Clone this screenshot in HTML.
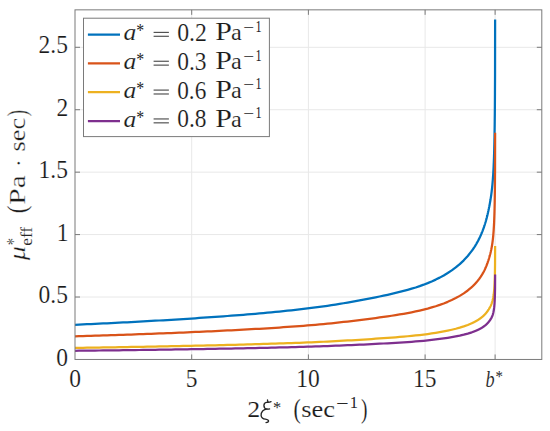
<!DOCTYPE html><html><head><meta charset="utf-8"><style>html,body{margin:0;padding:0;background:#fff;overflow:hidden}svg{display:block}text{font-family:"Liberation Serif",serif;fill:#1a1a1a;stroke:#fff;stroke-width:0.15px}text.sm{stroke:none;fill:#262626}.yl text{stroke-width:0.3px}.yl text.sm{stroke:#fff;stroke-width:0.12px}</style></head><body>
<svg width="550" height="431" viewBox="0 0 550 431">
<rect width="550" height="431" fill="#fff"/>
<path d="M191.70 9.84V359.45M308.40 9.84V359.45M425.10 9.84V359.45M495.12 9.84V359.45M75.00 297.02H541.80M75.00 234.59H541.80M75.00 172.16H541.80M75.00 109.73H541.80M75.00 47.30H541.80" stroke="#e8e8e8" stroke-width="1" fill="none"/>
<polyline points="75.00,324.77 79.01,324.59 83.02,324.41 87.02,324.23 91.03,324.04 95.04,323.86 99.05,323.67 103.06,323.48 107.06,323.28 111.07,323.08 115.08,322.89 119.09,322.68 123.09,322.48 127.10,322.27 131.11,322.06 135.12,321.85 139.13,321.63 143.13,321.41 147.14,321.19 151.15,320.96 155.16,320.74 159.17,320.50 163.17,320.27 167.18,320.03 171.19,319.79 175.20,319.54 179.20,319.29 183.21,319.04 187.22,318.79 191.23,318.52 195.24,318.26 199.24,317.99 203.25,317.72 207.26,317.45 211.27,317.17 215.28,316.88 219.28,316.59 223.29,316.30 227.30,316.00 231.31,315.70 235.32,315.39 239.32,315.08 243.33,314.76 247.34,314.43 251.35,314.10 255.35,313.76 259.36,313.41 263.37,313.05 267.38,312.69 271.39,312.32 275.39,311.93 279.40,311.54 283.41,311.14 287.42,310.73 291.43,310.30 295.43,309.86 299.44,309.41 303.45,308.94 307.46,308.46 311.46,307.96 315.47,307.45 319.48,306.91 323.49,306.35 327.50,305.77 331.50,305.17 335.51,304.56 339.52,303.92 343.53,303.26 347.54,302.58 351.54,301.88 355.55,301.16 359.56,300.43 363.57,299.67 367.58,298.90 371.58,298.12 375.59,297.32 379.60,296.50 383.61,295.65 387.61,294.78 391.62,293.88 395.63,292.94 399.64,291.96 403.65,290.93 407.65,289.85 411.66,288.69 415.67,287.46 419.68,286.12 423.69,284.68 427.69,283.12 431.70,281.44 435.71,279.61 439.72,277.62 443.72,275.44 447.73,273.04 451.74,270.39 455.75,267.43 459.76,264.10 463.76,260.32 467.77,255.98 471.78,250.91 471.86,250.81 471.94,250.70 472.01,250.59 472.09,250.48 472.17,250.37 472.25,250.26 472.33,250.15 472.40,250.04 472.48,249.93 472.56,249.82 472.64,249.71 472.72,249.60 472.79,249.49 472.87,249.38 472.95,249.26 473.03,249.15 473.11,249.04 473.19,248.92 473.26,248.81 473.34,248.69 473.42,248.58 473.50,248.46 473.58,248.35 473.65,248.23 473.73,248.11 473.81,248.00 473.89,247.88 473.97,247.76 474.04,247.64 474.12,247.52 474.20,247.40 474.28,247.28 474.36,247.16 474.43,247.04 474.51,246.92 474.59,246.80 474.67,246.68 474.75,246.55 474.82,246.43 474.90,246.31 474.98,246.18 475.06,246.06 475.14,245.93 475.21,245.81 475.29,245.68 475.37,245.55 475.45,245.42 475.53,245.30 475.60,245.17 475.68,245.04 475.76,244.91 475.84,244.78 475.92,244.65 476.00,244.52 476.07,244.39 476.15,244.26 476.23,244.12 476.31,243.99 476.39,243.86 476.46,243.72 476.54,243.59 476.62,243.45 476.70,243.31 476.78,243.18 476.85,243.04 476.93,242.90 477.01,242.76 477.09,242.62 477.17,242.49 477.24,242.34 477.32,242.20 477.40,242.06 477.48,241.92 477.56,241.78 477.63,241.63 477.71,241.49 477.79,241.34 477.87,241.20 477.95,241.05 478.02,240.91 478.10,240.76 478.18,240.61 478.26,240.46 478.34,240.31 478.42,240.16 478.49,240.01 478.57,239.86 478.65,239.71 478.73,239.55 478.81,239.40 478.88,239.24 478.96,239.09 479.04,238.93 479.12,238.77 479.20,238.62 479.27,238.46 479.35,238.30 479.43,238.14 479.51,237.98 479.59,237.82 479.66,237.65 479.74,237.49 479.82,237.32 479.90,237.16 479.98,236.99 480.05,236.83 480.13,236.66 480.21,236.49 480.29,236.32 480.37,236.15 480.44,235.98 480.52,235.81 480.60,235.63 480.68,235.46 480.76,235.28 480.83,235.11 480.91,234.93 480.99,234.75 481.07,234.57 481.15,234.39 481.23,234.21 481.30,234.03 481.38,233.85 481.46,233.66 481.54,233.48 481.62,233.29 481.69,233.10 481.77,232.91 481.85,232.72 481.93,232.53 482.01,232.34 482.08,232.15 482.16,231.95 482.24,231.76 482.32,231.56 482.40,231.36 482.47,231.16 482.55,230.96 482.63,230.76 482.71,230.56 482.79,230.35 482.86,230.15 482.94,229.94 483.02,229.73 483.10,229.52 483.18,229.31 483.25,229.10 483.33,228.89 483.41,228.67 483.49,228.45 483.57,228.24 483.65,228.02 483.72,227.79 483.80,227.57 483.88,227.35 483.96,227.12 484.04,226.89 484.11,226.67 484.19,226.43 484.27,226.20 484.35,225.97 484.43,225.73 484.50,225.50 484.58,225.26 484.66,225.02 484.74,224.77 484.82,224.53 484.89,224.28 484.97,224.03 485.05,223.78 485.13,223.53 485.21,223.28 485.28,223.02 485.36,222.76 485.44,222.50 485.52,222.24 485.60,221.98 485.67,221.71 485.75,221.44 485.83,221.17 485.91,220.90 485.99,220.62 486.07,220.34 486.14,220.06 486.22,219.78 486.30,219.50 486.38,219.21 486.46,218.92 486.53,218.62 486.61,218.33 486.69,218.03 486.77,217.73 486.85,217.43 486.92,217.12 487.00,216.81 487.08,216.50 487.16,216.18 487.24,215.87 487.31,215.54 487.39,215.22 487.47,214.89 487.55,214.56 487.63,214.23 487.70,213.89 487.78,213.55 487.86,213.20 487.94,212.85 488.02,212.50 488.09,212.15 488.17,211.79 488.25,211.43 488.33,211.07 488.41,210.71 488.48,210.34 488.56,209.97 488.64,209.60 488.72,209.23 488.80,208.85 488.88,208.47 488.95,208.09 489.03,207.70 489.11,207.32 489.19,206.92 489.27,206.53 489.34,206.13 489.42,205.73 489.50,205.32 489.58,204.91 489.66,204.49 489.73,204.08 489.81,203.65 489.89,203.22 489.97,202.79 490.05,202.35 490.12,201.90 490.20,201.45 490.28,200.99 490.36,200.53 490.44,200.06 490.51,199.58 490.59,199.10 490.67,198.61 490.75,198.11 490.83,197.60 490.90,197.08 490.98,196.56 491.06,196.02 491.14,195.47 491.22,194.92 491.30,194.35 491.37,193.77 491.45,193.17 491.53,192.57 491.61,191.95 491.69,191.31 491.76,190.66 491.84,189.99 491.92,189.31 492.00,188.60 492.08,187.88 492.15,187.14 492.23,186.37 492.31,185.58 492.39,184.77 492.47,183.92 492.54,183.05 492.62,182.15 492.70,181.22 492.78,180.24 492.86,179.24 492.93,178.18 493.01,177.09 493.09,175.94 493.17,174.75 493.25,173.49 493.32,172.17 493.40,170.79 493.48,169.32 493.56,167.78 493.64,166.14 493.71,164.39 493.79,162.53 493.87,160.53 493.95,158.39 494.03,156.08 494.11,153.58 494.18,150.87 494.26,147.91 494.34,144.65 494.42,141.06 494.50,137.04 494.57,132.51 494.65,127.33 494.73,121.30 494.81,114.10 494.89,105.19 494.96,93.44 495.04,75.92 495.12,19.42" fill="none" stroke="#0072BD" stroke-width="2.25" stroke-linejoin="round" stroke-linecap="butt"/>
<polyline points="75.00,336.33 79.01,336.21 83.02,336.09 87.02,335.97 91.03,335.85 95.04,335.72 99.05,335.59 103.06,335.47 107.06,335.34 111.07,335.21 115.08,335.07 119.09,334.94 123.09,334.80 127.10,334.66 131.11,334.52 135.12,334.38 139.13,334.24 143.13,334.09 147.14,333.94 151.15,333.79 155.16,333.64 159.17,333.49 163.17,333.33 167.18,333.17 171.19,333.01 175.20,332.85 179.20,332.68 183.21,332.51 187.22,332.34 191.23,332.17 195.24,331.99 199.24,331.81 203.25,331.63 207.26,331.45 211.27,331.26 215.28,331.07 219.28,330.88 223.29,330.68 227.30,330.49 231.31,330.28 235.32,330.08 239.32,329.87 243.33,329.65 247.34,329.44 251.35,329.21 255.35,328.99 259.36,328.76 263.37,328.52 267.38,328.28 271.39,328.03 275.39,327.77 279.40,327.51 283.41,327.24 287.42,326.97 291.43,326.68 295.43,326.39 299.44,326.09 303.45,325.78 307.46,325.46 311.46,325.13 315.47,324.78 319.48,324.42 323.49,324.05 327.50,323.66 331.50,323.27 335.51,322.85 339.52,322.43 343.53,321.99 347.54,321.54 351.54,321.07 355.55,320.59 359.56,320.10 363.57,319.60 367.58,319.09 371.58,318.56 375.59,318.03 379.60,317.48 383.61,316.92 387.61,316.34 391.62,315.74 395.63,315.11 399.64,314.46 403.65,313.77 407.65,313.05 411.66,312.28 415.67,311.45 419.68,310.57 423.69,309.60 427.69,308.57 431.70,307.44 435.71,306.23 439.72,304.90 443.72,303.44 447.73,301.84 451.74,300.07 455.75,298.10 459.76,295.88 463.76,293.36 467.77,290.47 471.78,287.09 471.86,287.02 471.94,286.95 472.01,286.88 472.09,286.80 472.17,286.73 472.25,286.66 472.33,286.59 472.40,286.51 472.48,286.44 472.56,286.37 472.64,286.29 472.72,286.22 472.79,286.14 472.87,286.07 472.95,285.99 473.03,285.92 473.11,285.84 473.19,285.77 473.26,285.69 473.34,285.61 473.42,285.54 473.50,285.46 473.58,285.38 473.65,285.30 473.73,285.23 473.81,285.15 473.89,285.07 473.97,284.99 474.04,284.91 474.12,284.83 474.20,284.75 474.28,284.67 474.36,284.59 474.43,284.51 474.51,284.43 474.59,284.35 474.67,284.27 474.75,284.19 474.82,284.10 474.90,284.02 474.98,283.94 475.06,283.85 475.14,283.77 475.21,283.69 475.29,283.60 475.37,283.52 475.45,283.43 475.53,283.35 475.60,283.26 475.68,283.18 475.76,283.09 475.84,283.00 475.92,282.92 476.00,282.83 476.07,282.74 476.15,282.65 476.23,282.57 476.31,282.48 476.39,282.39 476.46,282.30 476.54,282.21 476.62,282.12 476.70,282.03 476.78,281.94 476.85,281.84 476.93,281.75 477.01,281.66 477.09,281.57 477.17,281.47 477.24,281.38 477.32,281.29 477.40,281.19 477.48,281.10 477.56,281.00 477.63,280.91 477.71,280.81 477.79,280.71 477.87,280.62 477.95,280.52 478.02,280.42 478.10,280.32 478.18,280.22 478.26,280.12 478.34,280.02 478.42,279.92 478.49,279.82 478.57,279.72 478.65,279.62 478.73,279.52 478.81,279.42 478.88,279.31 478.96,279.21 479.04,279.10 479.12,279.00 479.20,278.89 479.27,278.79 479.35,278.68 479.43,278.58 479.51,278.47 479.59,278.36 479.66,278.25 479.74,278.14 479.82,278.03 479.90,277.92 479.98,277.81 480.05,277.70 480.13,277.59 480.21,277.48 480.29,277.36 480.37,277.25 480.44,277.14 480.52,277.02 480.60,276.91 480.68,276.79 480.76,276.67 480.83,276.55 480.91,276.44 480.99,276.32 481.07,276.20 481.15,276.08 481.23,275.96 481.30,275.84 481.38,275.71 481.46,275.59 481.54,275.47 481.62,275.34 481.69,275.22 481.77,275.09 481.85,274.97 481.93,274.84 482.01,274.71 482.08,274.58 482.16,274.45 482.24,274.32 482.32,274.19 482.40,274.06 482.47,273.93 482.55,273.79 482.63,273.66 482.71,273.52 482.79,273.39 482.86,273.25 482.94,273.11 483.02,272.97 483.10,272.83 483.18,272.69 483.25,272.55 483.33,272.41 483.41,272.26 483.49,272.12 483.57,271.97 483.65,271.83 483.72,271.68 483.80,271.53 483.88,271.38 483.96,271.23 484.04,271.08 484.11,270.93 484.19,270.77 484.27,270.62 484.35,270.46 484.43,270.31 484.50,270.15 484.58,269.99 484.66,269.83 484.74,269.67 484.82,269.50 484.89,269.34 484.97,269.17 485.05,269.01 485.13,268.84 485.21,268.67 485.28,268.50 485.36,268.33 485.44,268.15 485.52,267.98 485.60,267.80 485.67,267.62 485.75,267.44 485.83,267.26 485.91,267.08 485.99,266.90 486.07,266.71 486.14,266.53 486.22,266.34 486.30,266.15 486.38,265.96 486.46,265.76 486.53,265.57 486.61,265.37 486.69,265.17 486.77,264.97 486.85,264.77 486.92,264.56 487.00,264.36 487.08,264.15 487.16,263.94 487.24,263.73 487.31,263.51 487.39,263.30 487.47,263.08 487.55,262.86 487.63,262.63 487.70,262.41 487.78,262.18 487.86,261.95 487.94,261.72 488.02,261.48 488.09,261.25 488.17,261.01 488.25,260.77 488.33,260.53 488.41,260.29 488.48,260.04 488.56,259.80 488.64,259.55 488.72,259.30 488.80,259.05 488.88,258.80 488.95,258.54 489.03,258.29 489.11,258.03 489.19,257.77 489.27,257.50 489.34,257.24 489.42,256.97 489.50,256.70 489.58,256.42 489.66,256.15 489.73,255.87 489.81,255.58 489.89,255.30 489.97,255.01 490.05,254.72 490.12,254.42 490.20,254.12 490.28,253.81 490.36,253.50 490.44,253.19 490.51,252.87 490.59,252.55 490.67,252.22 490.75,251.89 490.83,251.55 490.90,251.20 490.98,250.85 491.06,250.50 491.14,250.13 491.22,249.76 491.30,249.38 491.37,248.99 491.45,248.60 491.53,248.19 491.61,247.78 491.69,247.36 491.76,246.92 491.84,246.48 491.92,246.02 492.00,245.55 492.08,245.07 492.15,244.58 492.23,244.06 492.31,243.54 492.39,242.99 492.47,242.43 492.54,241.85 492.62,241.25 492.70,240.63 492.78,239.98 492.86,239.31 492.93,238.61 493.01,237.88 493.09,237.11 493.17,236.31 493.25,235.48 493.32,234.60 493.40,233.67 493.48,232.70 493.56,231.67 493.64,230.58 493.71,229.41 493.79,228.17 493.87,226.84 493.95,225.41 494.03,223.87 494.11,222.20 494.18,220.40 494.26,218.42 494.34,216.25 494.42,213.85 494.50,211.18 494.57,208.16 494.65,204.71 494.73,200.69 494.81,195.89 494.89,189.94 494.96,182.11 495.04,170.43 495.12,132.76" fill="none" stroke="#D95319" stroke-width="2.25" stroke-linejoin="round" stroke-linecap="butt"/>
<polyline points="75.00,347.89 79.01,347.83 83.02,347.77 87.02,347.71 91.03,347.65 95.04,347.59 99.05,347.52 103.06,347.46 107.06,347.39 111.07,347.33 115.08,347.26 119.09,347.19 123.09,347.13 127.10,347.06 131.11,346.99 135.12,346.92 139.13,346.84 143.13,346.77 147.14,346.70 151.15,346.62 155.16,346.55 159.17,346.47 163.17,346.39 167.18,346.31 171.19,346.23 175.20,346.15 179.20,346.06 183.21,345.98 187.22,345.90 191.23,345.81 195.24,345.72 199.24,345.63 203.25,345.54 207.26,345.45 211.27,345.36 215.28,345.26 219.28,345.16 223.29,345.07 227.30,344.97 231.31,344.87 235.32,344.76 239.32,344.66 243.33,344.55 247.34,344.44 251.35,344.33 255.35,344.22 259.36,344.10 263.37,343.98 267.38,343.86 271.39,343.74 275.39,343.61 279.40,343.48 283.41,343.35 287.42,343.21 291.43,343.07 295.43,342.92 299.44,342.77 303.45,342.61 307.46,342.45 311.46,342.29 315.47,342.12 319.48,341.94 323.49,341.75 327.50,341.56 331.50,341.36 335.51,341.15 339.52,340.94 343.53,340.72 347.54,340.49 351.54,340.26 355.55,340.02 359.56,339.78 363.57,339.52 367.58,339.27 371.58,339.01 375.59,338.74 379.60,338.47 383.61,338.18 387.61,337.89 391.62,337.59 395.63,337.28 399.64,336.95 403.65,336.61 407.65,336.25 411.66,335.86 415.67,335.45 419.68,335.01 423.69,334.53 427.69,334.01 431.70,333.45 435.71,332.84 439.72,332.17 443.72,331.45 447.73,330.65 451.74,329.76 455.75,328.78 459.76,327.67 463.76,326.41 467.77,324.96 471.78,323.27 471.86,323.24 471.94,323.20 472.01,323.16 472.09,323.13 472.17,323.09 472.25,323.05 472.33,323.02 472.40,322.98 472.48,322.94 472.56,322.91 472.64,322.87 472.72,322.83 472.79,322.80 472.87,322.76 472.95,322.72 473.03,322.68 473.11,322.65 473.19,322.61 473.26,322.57 473.34,322.53 473.42,322.49 473.50,322.45 473.58,322.42 473.65,322.38 473.73,322.34 473.81,322.30 473.89,322.26 473.97,322.22 474.04,322.18 474.12,322.14 474.20,322.10 474.28,322.06 474.36,322.02 474.43,321.98 474.51,321.94 474.59,321.90 474.67,321.86 474.75,321.82 474.82,321.78 474.90,321.74 474.98,321.69 475.06,321.65 475.14,321.61 475.21,321.57 475.29,321.53 475.37,321.48 475.45,321.44 475.53,321.40 475.60,321.36 475.68,321.31 475.76,321.27 475.84,321.23 475.92,321.18 476.00,321.14 476.07,321.10 476.15,321.05 476.23,321.01 476.31,320.96 476.39,320.92 476.46,320.87 476.54,320.83 476.62,320.78 476.70,320.74 476.78,320.69 476.85,320.65 476.93,320.60 477.01,320.55 477.09,320.51 477.17,320.46 477.24,320.41 477.32,320.37 477.40,320.32 477.48,320.27 477.56,320.23 477.63,320.18 477.71,320.13 477.79,320.08 477.87,320.03 477.95,319.98 478.02,319.94 478.10,319.89 478.18,319.84 478.26,319.79 478.34,319.74 478.42,319.69 478.49,319.64 478.57,319.59 478.65,319.54 478.73,319.48 478.81,319.43 478.88,319.38 478.96,319.33 479.04,319.28 479.12,319.22 479.20,319.17 479.27,319.12 479.35,319.07 479.43,319.01 479.51,318.96 479.59,318.91 479.66,318.85 479.74,318.80 479.82,318.74 479.90,318.69 479.98,318.63 480.05,318.58 480.13,318.52 480.21,318.46 480.29,318.41 480.37,318.35 480.44,318.29 480.52,318.24 480.60,318.18 480.68,318.12 480.76,318.06 480.83,318.00 480.91,317.94 480.99,317.88 481.07,317.82 481.15,317.76 481.23,317.70 481.30,317.64 481.38,317.58 481.46,317.52 481.54,317.46 481.62,317.40 481.69,317.33 481.77,317.27 481.85,317.21 481.93,317.14 482.01,317.08 482.08,317.02 482.16,316.95 482.24,316.89 482.32,316.82 482.40,316.75 482.47,316.69 482.55,316.62 482.63,316.55 482.71,316.49 482.79,316.42 482.86,316.35 482.94,316.28 483.02,316.21 483.10,316.14 483.18,316.07 483.25,316.00 483.33,315.93 483.41,315.86 483.49,315.78 483.57,315.71 483.65,315.64 483.72,315.56 483.80,315.49 483.88,315.42 483.96,315.34 484.04,315.26 484.11,315.19 484.19,315.11 484.27,315.03 484.35,314.96 484.43,314.88 484.50,314.80 484.58,314.72 484.66,314.64 484.74,314.56 484.82,314.48 484.89,314.39 484.97,314.31 485.05,314.23 485.13,314.14 485.21,314.06 485.28,313.97 485.36,313.89 485.44,313.80 485.52,313.71 485.60,313.63 485.67,313.54 485.75,313.45 485.83,313.36 485.91,313.27 485.99,313.17 486.07,313.08 486.14,312.99 486.22,312.89 486.30,312.80 486.38,312.70 486.46,312.61 486.53,312.51 486.61,312.41 486.69,312.31 486.77,312.21 486.85,312.11 486.92,312.01 487.00,311.90 487.08,311.80 487.16,311.69 487.24,311.59 487.31,311.48 487.39,311.37 487.47,311.26 487.55,311.15 487.63,311.04 487.70,310.93 487.78,310.82 487.86,310.70 487.94,310.58 488.02,310.47 488.09,310.35 488.17,310.23 488.25,310.11 488.33,309.99 488.41,309.87 488.48,309.75 488.56,309.62 488.64,309.50 488.72,309.38 488.80,309.25 488.88,309.12 488.95,309.00 489.03,308.87 489.11,308.74 489.19,308.61 489.27,308.48 489.34,308.34 489.42,308.21 489.50,308.07 489.58,307.94 489.66,307.80 489.73,307.66 489.81,307.52 489.89,307.37 489.97,307.23 490.05,307.08 490.12,306.93 490.20,306.78 490.28,306.63 490.36,306.48 490.44,306.32 490.51,306.16 490.59,306.00 490.67,305.84 490.75,305.67 490.83,305.50 490.90,305.33 490.98,305.15 491.06,304.97 491.14,304.79 491.22,304.61 491.30,304.42 491.37,304.22 491.45,304.02 491.53,303.82 491.61,303.62 491.69,303.40 491.76,303.19 491.84,302.96 491.92,302.74 492.00,302.50 492.08,302.26 492.15,302.01 492.23,301.76 492.31,301.49 492.39,301.22 492.47,300.94 492.54,300.65 492.62,300.35 492.70,300.04 492.78,299.71 492.86,299.38 492.93,299.03 493.01,298.66 493.09,298.28 493.17,297.88 493.25,297.46 493.32,297.02 493.40,296.56 493.48,296.07 493.56,295.56 493.64,295.01 493.71,294.43 493.79,293.81 493.87,293.14 493.95,292.43 494.03,291.66 494.11,290.83 494.18,289.92 494.26,288.94 494.34,287.85 494.42,286.65 494.50,285.31 494.57,283.80 494.65,282.08 494.73,280.07 494.81,277.67 494.89,274.70 494.96,270.78 495.04,264.94 495.12,246.11" fill="none" stroke="#EDB120" stroke-width="2.25" stroke-linejoin="round" stroke-linecap="butt"/>
<polyline points="75.00,350.78 79.01,350.73 83.02,350.69 87.02,350.64 91.03,350.60 95.04,350.55 99.05,350.50 103.06,350.46 107.06,350.41 111.07,350.36 115.08,350.31 119.09,350.26 123.09,350.21 127.10,350.16 131.11,350.10 135.12,350.05 139.13,350.00 143.13,349.94 147.14,349.89 151.15,349.83 155.16,349.77 159.17,349.71 163.17,349.65 167.18,349.60 171.19,349.53 175.20,349.47 179.20,349.41 183.21,349.35 187.22,349.28 191.23,349.22 195.24,349.15 199.24,349.09 203.25,349.02 207.26,348.95 211.27,348.88 215.28,348.81 219.28,348.74 223.29,348.66 227.30,348.59 231.31,348.51 235.32,348.44 239.32,348.36 243.33,348.28 247.34,348.20 251.35,348.11 255.35,348.03 259.36,347.94 263.37,347.85 267.38,347.76 271.39,347.67 275.39,347.57 279.40,347.47 283.41,347.37 287.42,347.27 291.43,347.16 295.43,347.05 299.44,346.94 303.45,346.82 307.46,346.70 311.46,346.58 315.47,346.45 319.48,346.31 323.49,346.17 327.50,346.03 331.50,345.88 335.51,345.73 339.52,345.57 343.53,345.40 347.54,345.23 351.54,345.06 355.55,344.88 359.56,344.69 363.57,344.51 367.58,344.31 371.58,344.12 375.59,343.92 379.60,343.71 383.61,343.50 387.61,343.28 391.62,343.06 395.63,342.82 399.64,342.58 403.65,342.32 407.65,342.05 411.66,341.76 415.67,341.45 419.68,341.12 423.69,340.76 427.69,340.37 431.70,339.95 435.71,339.49 439.72,338.99 443.72,338.45 447.73,337.85 451.74,337.18 455.75,336.44 459.76,335.61 463.76,334.67 467.77,333.58 471.78,332.32 471.86,332.29 471.94,332.26 472.01,332.24 472.09,332.21 472.17,332.18 472.25,332.15 472.33,332.13 472.40,332.10 472.48,332.07 472.56,332.04 472.64,332.02 472.72,331.99 472.79,331.96 472.87,331.93 472.95,331.90 473.03,331.88 473.11,331.85 473.19,331.82 473.26,331.79 473.34,331.76 473.42,331.73 473.50,331.70 473.58,331.67 473.65,331.65 473.73,331.62 473.81,331.59 473.89,331.56 473.97,331.53 474.04,331.50 474.12,331.47 474.20,331.44 474.28,331.41 474.36,331.38 474.43,331.35 474.51,331.32 474.59,331.29 474.67,331.26 474.75,331.23 474.82,331.19 474.90,331.16 474.98,331.13 475.06,331.10 475.14,331.07 475.21,331.04 475.29,331.01 475.37,330.98 475.45,330.94 475.53,330.91 475.60,330.88 475.68,330.85 475.76,330.82 475.84,330.78 475.92,330.75 476.00,330.72 476.07,330.68 476.15,330.65 476.23,330.62 476.31,330.58 476.39,330.55 476.46,330.52 476.54,330.48 476.62,330.45 476.70,330.42 476.78,330.38 476.85,330.35 476.93,330.31 477.01,330.28 477.09,330.24 477.17,330.21 477.24,330.17 477.32,330.14 477.40,330.10 477.48,330.07 477.56,330.03 477.63,330.00 477.71,329.96 477.79,329.92 477.87,329.89 477.95,329.85 478.02,329.81 478.10,329.78 478.18,329.74 478.26,329.70 478.34,329.67 478.42,329.63 478.49,329.59 478.57,329.55 478.65,329.51 478.73,329.48 478.81,329.44 478.88,329.40 478.96,329.36 479.04,329.32 479.12,329.28 479.20,329.24 479.27,329.20 479.35,329.16 479.43,329.12 479.51,329.08 479.59,329.04 479.66,329.00 479.74,328.96 479.82,328.92 479.90,328.88 479.98,328.84 480.05,328.79 480.13,328.75 480.21,328.71 480.29,328.67 480.37,328.62 480.44,328.58 480.52,328.54 480.60,328.50 480.68,328.45 480.76,328.41 480.83,328.36 480.91,328.32 480.99,328.28 481.07,328.23 481.15,328.19 481.23,328.14 481.30,328.09 481.38,328.05 481.46,328.00 481.54,327.96 481.62,327.91 481.69,327.86 481.77,327.82 481.85,327.77 481.93,327.72 482.01,327.67 482.08,327.62 482.16,327.58 482.24,327.53 482.32,327.48 482.40,327.43 482.47,327.38 482.55,327.33 482.63,327.28 482.71,327.23 482.79,327.18 482.86,327.12 482.94,327.07 483.02,327.02 483.10,326.97 483.18,326.92 483.25,326.86 483.33,326.81 483.41,326.75 483.49,326.70 483.57,326.65 483.65,326.59 483.72,326.54 483.80,326.48 483.88,326.42 483.96,326.37 484.04,326.31 484.11,326.25 484.19,326.20 484.27,326.14 484.35,326.08 484.43,326.02 484.50,325.96 484.58,325.90 484.66,325.84 484.74,325.78 484.82,325.72 484.89,325.66 484.97,325.60 485.05,325.53 485.13,325.47 485.21,325.41 485.28,325.34 485.36,325.28 485.44,325.21 485.52,325.15 485.60,325.08 485.67,325.01 485.75,324.95 485.83,324.88 485.91,324.81 485.99,324.74 486.07,324.67 486.14,324.60 486.22,324.53 486.30,324.46 486.38,324.39 486.46,324.32 486.53,324.24 486.61,324.17 486.69,324.10 486.77,324.02 486.85,323.94 486.92,323.87 487.00,323.79 487.08,323.71 487.16,323.63 487.24,323.55 487.31,323.47 487.39,323.39 487.47,323.31 487.55,323.23 487.63,323.14 487.70,323.06 487.78,322.97 487.86,322.89 487.94,322.80 488.02,322.71 488.09,322.62 488.17,322.54 488.25,322.45 488.33,322.35 488.41,322.26 488.48,322.17 488.56,322.08 488.64,321.99 488.72,321.89 488.80,321.80 488.88,321.71 488.95,321.61 489.03,321.51 489.11,321.42 489.19,321.32 489.27,321.22 489.34,321.12 489.42,321.02 489.50,320.92 489.58,320.82 489.66,320.71 489.73,320.61 489.81,320.50 489.89,320.39 489.97,320.28 490.05,320.17 490.12,320.06 490.20,319.95 490.28,319.84 490.36,319.72 490.44,319.60 490.51,319.48 490.59,319.36 490.67,319.24 490.75,319.11 490.83,318.99 490.90,318.86 490.98,318.73 491.06,318.59 491.14,318.46 491.22,318.32 491.30,318.17 491.37,318.03 491.45,317.88 491.53,317.73 491.61,317.57 491.69,317.42 491.76,317.25 491.84,317.09 491.92,316.91 492.00,316.74 492.08,316.56 492.15,316.37 492.23,316.18 492.31,315.98 492.39,315.78 492.47,315.57 492.54,315.35 492.62,315.13 492.70,314.89 492.78,314.65 492.86,314.40 492.93,314.13 493.01,313.86 493.09,313.57 493.17,313.27 493.25,312.96 493.32,312.63 493.40,312.28 493.48,311.92 493.56,311.53 493.64,311.12 493.71,310.69 493.79,310.22 493.87,309.72 493.95,309.18 494.03,308.61 494.11,307.98 494.18,307.30 494.26,306.56 494.34,305.75 494.42,304.85 494.50,303.85 494.57,302.72 494.65,301.42 494.73,299.91 494.81,298.11 494.89,295.88 494.96,292.95 495.04,288.57 495.12,274.44" fill="none" stroke="#7E2F8E" stroke-width="2.25" stroke-linejoin="round" stroke-linecap="butt"/>
<path d="M191.70 359.45v-5M191.70 9.84v5M308.40 359.45v-5M308.40 9.84v5M425.10 359.45v-5M425.10 9.84v5M495.12 359.45v-5M495.12 9.84v5M75.00 297.02h5M541.80 297.02h-5M75.00 234.59h5M541.80 234.59h-5M75.00 172.16h5M541.80 172.16h-5M75.00 109.73h5M541.80 109.73h-5M75.00 47.30h5M541.80 47.30h-5" stroke="#7a7a7a" stroke-width="1" fill="none"/>
<rect x="75.00" y="9.84" width="466.80" height="349.61" stroke="#7a7a7a" stroke-width="1" fill="none"/>
<text transform="translate(56.15,365.55) scale(1.000,1.030)" font-size="23.5">0</text>
<text transform="translate(38.54,303.12) scale(1.000,1.030)" font-size="23.5">0.5</text>
<text transform="translate(56.66,240.69) scale(1.000,1.030)" font-size="23.5">1</text>
<text transform="translate(38.54,178.26) scale(1.000,1.030)" font-size="23.5">1.5</text>
<text transform="translate(56.55,115.83) scale(1.000,1.030)" font-size="23.5">2</text>
<text transform="translate(38.54,53.40) scale(1.000,1.030)" font-size="23.5">2.5</text>
<text transform="translate(69.33,386.50) scale(1.000,1.050)" font-size="23.5">0</text>
<text transform="translate(185.80,386.50) scale(1.000,1.050)" font-size="23.5">5</text>
<text transform="translate(296.26,386.50) scale(1.000,1.050)" font-size="23.5">10</text>
<text transform="translate(412.98,386.50) scale(1.000,1.050)" font-size="23.5">15</text>
<text transform="translate(485.52,386.50) scale(0.777,1.000)" font-size="23.5" font-style="italic">b</text>
<text transform="translate(495.57,381.90) scale(0.930,1.000)" font-size="16" class="sm">*</text>
<text transform="translate(247.16,417.30) scale(1.104,1.000)" font-size="23.5">2</text>
<path d="M267.5 399.9Q267.5 401.4 268.2 401.9M271.0 401.6Q269.5 402.4 267.2 402.2Q264.0 402.6 263.9 405.4Q264.0 408.6 267.0 409.0Q268.6 409.2 269.6 408.9M267.6 409.2Q264.6 409.0 262.6 411.0Q260.8 413.0 261.1 415.6Q261.6 418.6 265.4 419.2Q268.6 419.8 268.6 421.2Q268.4 422.6 266.0 422.6" fill="none" stroke="#262626" stroke-width="1.35" stroke-linecap="round"/>
<text transform="translate(272.90,413.20) scale(1.023,1.000)" font-size="16" class="sm">*</text>
<text transform="translate(293.54,417.90) scale(0.823,1.000)" font-size="26.5">(</text>
<text transform="translate(301.21,417.30) scale(1.126,1.000)" font-size="23.5">sec</text>
<text transform="translate(336.00,409.20) scale(1.341,1.000)" font-size="16.5" class="sm">−</text>
<text x="349.65" y="408.00" font-size="16.5" class="sm">1</text>
<text transform="translate(361.07,417.90) scale(0.735,1.000)" font-size="26.5">)</text>
<rect x="83.5" y="18.2" width="185.90" height="118.40" fill="#fff" stroke="#7a7a7a" stroke-width="1"/>
<path d="M87.9 34.50H120.0" stroke="#0072BD" stroke-width="2.25"/>
<text transform="translate(123.44,40.35) scale(1.092,1.000)" font-size="23.5" font-style="italic">a</text>
<text transform="translate(136.13,36.95) scale(0.858,1.000)" font-size="18.5" class="sm">*</text>
<path d="M153.6 32.35H168.9M153.6 36.25H168.9" stroke="#333" stroke-width="1.0"/>
<text transform="translate(177.19,40.85) scale(1.012,1.030)" font-size="23.5">0.2</text>
<text transform="translate(215.34,40.35) scale(1.275,1.050)" font-size="23.5">P</text>
<text transform="translate(230.95,40.35) scale(1.034,1.000)" font-size="23.5">a</text>
<text transform="translate(243.34,32.65) scale(1.209,1.000)" font-size="16" class="sm">−</text>
<text transform="translate(255.53,31.65) scale(0.763,1.000)" font-size="16" class="sm">1</text>
<path d="M87.9 63.37H120.0" stroke="#D95319" stroke-width="2.25"/>
<text transform="translate(123.44,69.22) scale(1.092,1.000)" font-size="23.5" font-style="italic">a</text>
<text transform="translate(136.13,65.82) scale(0.858,1.000)" font-size="18.5" class="sm">*</text>
<path d="M153.6 61.22H168.9M153.6 65.12H168.9" stroke="#333" stroke-width="1.0"/>
<text transform="translate(177.21,69.72) scale(0.998,1.030)" font-size="23.5">0.3</text>
<text transform="translate(215.34,69.22) scale(1.275,1.050)" font-size="23.5">P</text>
<text transform="translate(230.95,69.22) scale(1.034,1.000)" font-size="23.5">a</text>
<text transform="translate(243.34,61.52) scale(1.209,1.000)" font-size="16" class="sm">−</text>
<text transform="translate(255.53,60.52) scale(0.763,1.000)" font-size="16" class="sm">1</text>
<path d="M87.9 92.24H120.0" stroke="#EDB120" stroke-width="2.25"/>
<text transform="translate(123.44,98.09) scale(1.092,1.000)" font-size="23.5" font-style="italic">a</text>
<text transform="translate(136.13,94.69) scale(0.858,1.000)" font-size="18.5" class="sm">*</text>
<path d="M153.6 90.09H168.9M153.6 93.99H168.9" stroke="#333" stroke-width="1.0"/>
<text transform="translate(177.21,98.59) scale(0.990,1.030)" font-size="23.5">0.6</text>
<text transform="translate(215.34,98.09) scale(1.275,1.050)" font-size="23.5">P</text>
<text transform="translate(230.95,98.09) scale(1.034,1.000)" font-size="23.5">a</text>
<text transform="translate(243.34,90.39) scale(1.209,1.000)" font-size="16" class="sm">−</text>
<text transform="translate(255.53,89.39) scale(0.763,1.000)" font-size="16" class="sm">1</text>
<path d="M87.9 121.11H120.0" stroke="#7E2F8E" stroke-width="2.25"/>
<text transform="translate(123.44,126.96) scale(1.092,1.000)" font-size="23.5" font-style="italic">a</text>
<text transform="translate(136.13,123.56) scale(0.858,1.000)" font-size="18.5" class="sm">*</text>
<path d="M153.6 118.96H168.9M153.6 122.86H168.9" stroke="#333" stroke-width="1.0"/>
<text transform="translate(177.21,127.46) scale(0.997,1.030)" font-size="23.5">0.8</text>
<text transform="translate(215.34,126.96) scale(1.275,1.050)" font-size="23.5">P</text>
<text transform="translate(230.95,126.96) scale(1.034,1.000)" font-size="23.5">a</text>
<text transform="translate(243.34,119.26) scale(1.209,1.000)" font-size="16" class="sm">−</text>
<text transform="translate(255.53,118.26) scale(0.763,1.000)" font-size="16" class="sm">1</text>
<g class="yl" transform="translate(25.0,0) rotate(-90)">
<text transform="translate(-260.27,0.00) scale(1.205,1.000)" font-size="23.5" font-style="italic">μ</text>
<text transform="translate(-245.31,-4.60) scale(0.770,1.000)" font-size="19" class="sm">*</text>
<text transform="translate(-245.67,7.40) scale(1.011,1.000)" font-size="17" class="sm">eff</text>
<text transform="translate(-213.33,0.60) scale(0.882,1.000)" font-size="26.5">(</text>
<text transform="translate(-204.75,0.00) scale(1.249,1.000)" font-size="23.5">P</text>
<text transform="translate(-188.22,0.00) scale(1.239,1.000)" font-size="23.5">a</text>
<text transform="translate(-166.86,1.20) scale(0.936,1.000)" font-size="23.5">·</text>
<text transform="translate(-151.58,0.00) scale(1.123,1.000)" font-size="23.5">sec</text>
<text transform="translate(-116.20,0.60) scale(0.705,1.000)" font-size="26.5">)</text>
</g>
</svg></body></html>
